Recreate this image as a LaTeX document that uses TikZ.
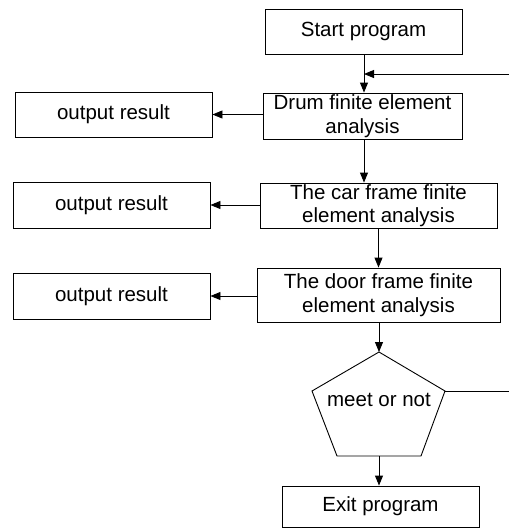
\documentclass[tikz,border=0pt]{standalone}
\usepackage{fontspec}
\setmainfont{Liberation Sans}
\usetikzlibrary{arrows.meta}
\tikzset{
  box/.style={draw=black, line width=0.9pt, rectangle, inner sep=0pt, align=center,
    font=\fontsize{20.5}{23.5}\selectfont},
  arr/.style={draw=black, line width=0.9pt, -{Triangle[length=10pt,width=8pt]}},
  ln/.style={draw=black, line width=0.9pt},
}
\begin{document}
\begin{tikzpicture}[x=1pt,y=-1pt]
\useasboundingbox (0,0) rectangle (509,531);
\node[box, minimum width=197pt, minimum height=45pt] (start) at (363.5,31.5) {Start program};
\node[box, minimum width=199pt, minimum height=46pt] (drum) at (362.5,116) {Drum finite element\\analysis};
\node[box, minimum width=237pt, minimum height=45pt] (car) at (378.5,205.5) {The car frame finite\\element analysis};
\node[box, minimum width=243pt, minimum height=54pt] (door) at (378.5,295) {The door frame finite\\element analysis};
\node[box, minimum width=197pt, minimum height=45pt] (out1) at (113.5,114.5) {output result};
\node[box, minimum width=197pt, minimum height=46pt] (out2) at (111.5,205) {output result};
\node[box, minimum width=197pt, minimum height=46pt] (out3) at (111.5,296) {output result};
\node[box, minimum width=197pt, minimum height=41pt] (exit) at (380.5,506.5) {Exit program};
% pentagon
\coordinate (ptop) at (379,352);
\coordinate (pleft) at (312,391);
\coordinate (pright) at (445,391);
\coordinate (pbl) at (337,456);
\coordinate (pbr) at (421,456);
\coordinate (pbot) at (379,456);
\draw[ln] (ptop) -- (pright) -- (pbr) -- (pbl) -- (pleft) -- cycle;
\node[font=\fontsize{20.5}{23.5}\selectfont, inner sep=0pt] (meet) at (379,400) {meet or not};
% feedback ends
\coordinate (fbtop) at (509,74);
\coordinate (fbbot) at (509,391);
\coordinate (mainx) at (364,0);
% connectors
\draw[arr] (mainx |- start.south) -- (mainx |- drum.north);
\draw[arr] (mainx |- drum.south) -- (mainx |- car.north);
\draw[arr] (car.south) -- (car.south |- door.north);
\draw[arr] (ptop |- door.south) -- (ptop);
\draw[arr] (pbot) -- (pbot |- exit.north);
\draw[arr] (fbtop) -- (fbtop -| mainx);
\draw[ln] (pright) -- (fbbot);
\draw[arr] (out1.east -| drum.west) -- (out1.east);
\draw[arr] (out2.east -| car.west) -- (out2.east);
\draw[arr] (out3.east -| door.west) -- (out3.east);
\end{tikzpicture}
\end{document}
